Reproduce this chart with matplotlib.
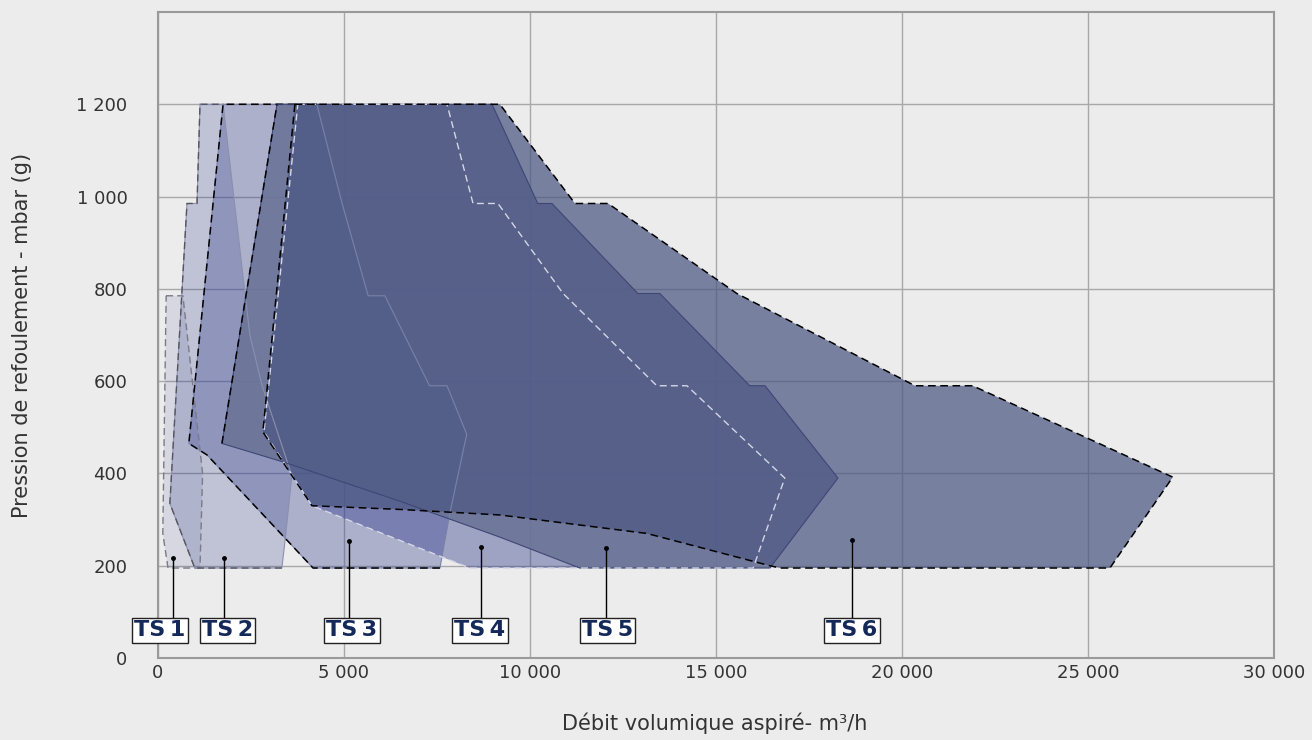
import numpy as np
from matplotlib import pyplot as plt

# operating envelopes: x = flow m3/h, y = discharge pressure mbar(g)
ts1_x = [220, 670, 1200, 1130, 270, 130]
ts1_y = [785, 785, 400, 195, 195, 270]

ts2_x = [1130, 1750, 2470, 2800, 3600, 3410, 3330, 990, 320, 780, 1050]
ts2_y = [1200, 1200, 700, 590, 395, 250, 195, 195, 335, 985, 985]

ts3_x = [1750, 4270, 4950, 5650, 6100, 7300, 7770, 8300, 7850, 7580, 4170, 1320, 830]
ts3_y = [1200, 1200, 985, 785, 785, 590, 590, 485, 315, 195, 195, 440, 465]

ts4_x = [3760, 7770, 8470, 9140, 10890, 13410, 14220, 16850, 16000, 8390, 4140, 2850]
ts4_y = [1200, 1200, 985, 985, 790, 590, 590, 390, 195, 195, 330, 490]

ts5_x = [3200, 8980, 10210, 10590, 12900, 13490, 15910, 16320, 18280, 16450, 11340, 9190, 6500, 3360, 1720]
ts5_y = [1200, 1200, 985, 985, 790, 790, 590, 590, 390, 195, 195, 262, 340, 425, 465]

ts6_x = [3680, 9190, 11210, 12100, 15560, 20350, 21900, 27280, 25590, 16720, 16450, 13140, 9190, 6500, 4140, 2820]
ts6_y = [1200, 1200, 985, 985, 790, 590, 590, 392, 195, 195, 200, 270, 310, 322, 330, 490]

labels = ['TS\u20091', 'TS\u20092', 'TS\u20093', 'TS\u20094', 'TS\u20095', 'TS\u20096']
label_x = [54, 1868, 5215, 8655, 12088, 18655]
dot_x = [403, 1774, 5134, 8683, 12043, 18656]
dot_y = [217, 217, 253, 240, 238, 256]

xticks = [0, 5000, 10000, 15000, 20000, 25000, 30000]
xtick_labels = ['0', '5 000', '10 000', '15 000', '20 000', '25 000', '30 000']
yticks = [0, 200, 400, 600, 800, 1000, 1200]
ytick_labels = ['0', '200', '400', '600', '800', '1 000', '1 200']

bg = '#ececec'
lav = '#37418f'

fig = plt.figure(figsize=(13.12, 7.40), dpi=100, facecolor=bg)
ax = fig.add_axes([0.1204, 0.1108, 0.8506, 0.873])
ax.set_facecolor(bg)

# fills, light to dark
ax.fill(ts1_x, ts1_y, color=lav, alpha=0.12, lw=0, zorder=1)
ax.fill(ts2_x, ts2_y, color=lav, alpha=0.24, lw=0, zorder=1)
ax.fill(ts3_x, ts3_y, color=lav, alpha=0.35, lw=0, zorder=1)
ax.fill(ts4_x, ts4_y, color=lav, alpha=0.43, lw=0, zorder=1)
ax.fill(ts5_x, ts5_y, color='#6b7497', alpha=0.9, lw=0, zorder=2)
ax.fill(ts6_x, ts6_y, color='#4c5783', alpha=0.72, lw=0, zorder=3)

dash = (0, (5, 3))

def closed(xs, ys):
    return list(xs) + [xs[0]], list(ys) + [ys[0]]

# outlines
x, y = closed(ts1_x, ts1_y)
ax.plot(x, y, color='#7a7a88', lw=1, ls=dash, zorder=5)

x, y = closed(ts2_x, ts2_y)
ax.plot(x, y, color='#8a90ae', lw=0.8, zorder=5)
idx = [6, 7, 8, 9, 10, 0, 1]
ax.plot([ts2_x[i] for i in idx], [ts2_y[i] for i in idx], color='#555560', lw=1, ls=dash, zorder=5)

x, y = closed(ts3_x, ts3_y)
ax.plot(x, y, color='#7a82a8', lw=0.8, zorder=5)
idx = [9, 10, 11, 12, 0, 1]
ax.plot([ts3_x[i] for i in idx], [ts3_y[i] for i in idx], color='black', lw=1.1, ls=dash, zorder=5)

x, y = closed(ts5_x, ts5_y)
ax.plot(x, y, color='#3e4775', lw=0.8, zorder=5)
ax.plot([ts5_x[-1], ts5_x[0]], [ts5_y[-1], ts5_y[0]], color='black', lw=1.1, ls=dash, zorder=5)

x, y = closed(ts4_x, ts4_y)
ax.plot(x, y, color='#d4d7e6', lw=1, ls=dash, zorder=6)

x, y = closed(ts6_x, ts6_y)
ax.plot(x, y, color='black', lw=1.1, ls=dash, zorder=7)

# model labels
for lab, lx, dx, dy in zip(labels, label_x, dot_x, dot_y):
    ax.plot([dx, dx], [dy, 87], color='black', lw=1, zorder=8)
    ax.plot(dx, dy, 'o', color='black', markersize=2.5, zorder=8)
    ax.text(lx, 60, lab, ha='center', va='center', fontsize=16, fontweight='bold',
            color='#14285a', zorder=10, clip_on=False,
            bbox=dict(boxstyle='square,pad=0.1', fc='white', ec='#222222', lw=1))

ax.set_xlim(0, 30000)
ax.set_ylim(0, 1400)
ax.set_xticks(xticks)
ax.set_xticklabels(xtick_labels)
ax.set_yticks(yticks)
ax.set_yticklabels(ytick_labels)
ax.tick_params(length=0, labelsize=13, colors='#333333')
ax.tick_params(axis='y', pad=22)
ax.tick_params(axis='x', pad=4)
ax.grid(True, color='#a8a8a8', lw=1)
ax.set_axisbelow(True)
for s in ax.spines.values():
    s.set_color('#9a9a9a')
    s.set_linewidth(1.5)

ax.set_xlabel('Débit volumique aspiré- m\u00b3/h', fontsize=15, color='#333333', va='center')
ax.xaxis.set_label_coords(0.499, -0.1006)
ax.set_ylabel('Pression de refoulement - mbar (g)', fontsize=15, color='#333333', va='center')
ax.yaxis.set_label_coords(-0.1219, 0.5)

fig.savefig('out.png', dpi=100, facecolor=bg)
